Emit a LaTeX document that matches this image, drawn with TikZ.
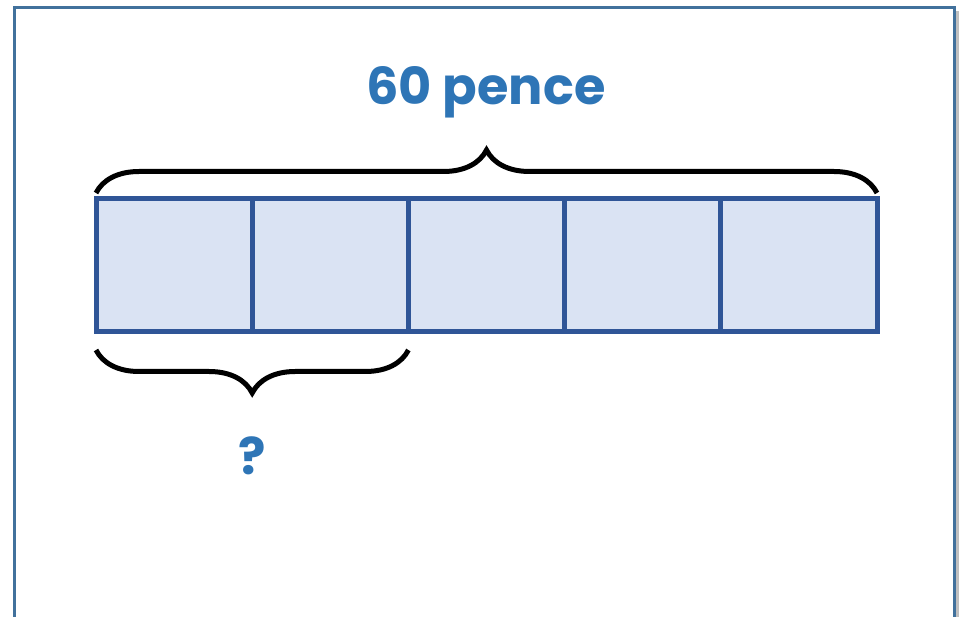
\documentclass[tikz,border=0pt]{standalone}
\usepackage{fontspec}
\newfontfamily\labelfont{Poppins}
\usetikzlibrary{chains,decorations.pathreplacing}
\definecolor{textblue}{HTML}{2E75B6}
\definecolor{cellfill}{HTML}{DAE3F3}
\definecolor{cellline}{HTML}{2F5597}
\definecolor{framecol}{HTML}{41719C}

\begin{document}
\begin{tikzpicture}[%
    x=1pt, y=-1pt,              % pixel-like units, y grows downwards
    start chain=going right,    % the bar runs left-to-right
    node distance=0pt,          % cells touch each other
    ]
% -------------------------------------------------
% Styles for the bar model
\tikzset{
  cell/.style={draw=cellline, fill=cellfill, line width=5pt, on chain,
    rectangle, minimum width=156.2pt, minimum height=133pt,
    inner sep=0pt, outer sep=0pt},
  brace/.style={draw, line width=5pt, decorate,
    decoration={brace, amplitude=43pt}},
  lbl/.style={text=textblue, font={\labelfont\bfseries\fontsize{51}{58}\selectfont}}
}
\useasboundingbox (0,0) rectangle (961,617);
% -------------------------------------------------
% Slide frame
\fill[black!25] (956,11) rectangle (959,617);
\draw[framecol, line width=3pt] (14,617) -- (14,8) -- (954,8) -- (954,617);

% The five equal parts
\node [cell] (c1) at (174.1,265.5) {};
\foreach \i in {2,...,5}
  \node [cell] (c\i) {};

% Braces: whole and two parts
\draw [brace] ([shift={(0,-6)}]c1.north west) -- ([shift={(0,-6)}]c5.north east);
\draw [brace] ([shift={(0,18)}]c2.south east) -- ([shift={(0,18)}]c1.south west);

% Labels
\node [lbl] (total) at (486,92) {60 pence};
\node [lbl] (part) at (252,456) {?};
% -------------------------------------------------
\end{tikzpicture}
\end{document}
